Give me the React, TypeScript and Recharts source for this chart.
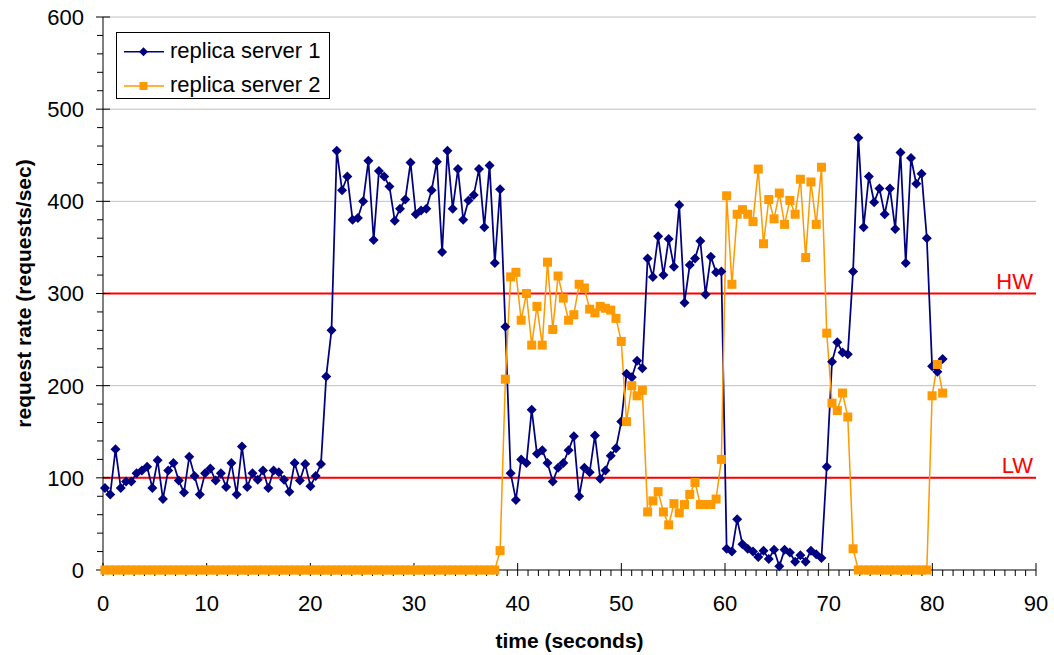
import React from 'react';
import { LineChart, Line, XAxis, YAxis, ReferenceLine, Legend } from 'recharts';

const FONT = '"Liberation Sans", Arial, Helvetica, sans-serif';
const NAVY = '#000080';
const ORANGE = '#FF9900';
const RED = '#FF0000';
const GRID = '#C0C0C0';

// sampling clock of the measurement run (seconds)
const FIRST_SAMPLE = 0.19;
const SAMPLE_INTERVAL = 0.5082;

// request rate seen by each replica, one value per sample
const server1 = [
  89, 82, 131, 89, 96, 96, 105, 108, 112, 89,
  119, 77, 108, 116, 97, 84, 123, 102, 82, 105,
  110, 97, 105, 90, 116, 82, 134, 90, 105, 98,
  108, 89, 108, 106, 98, 85, 116, 97, 115, 91,
  102, 115, 210, 260, 455, 412, 427, 380, 382, 400,
  444, 358, 433, 427, 416, 379, 392, 402, 442, 386,
  390, 392, 412, 443, 345, 455, 392, 435, 380, 401,
  407, 435, 372, 439, 333, 413, 264, 105, 76, 120,
  116, 174, 126, 130, 116, 96, 111, 116, 130, 145,
  80, 111, 106, 146, 99, 108, 124, 132, 161, 213,
  209, 227, 219, 338, 318, 362, 320, 359, 329, 396,
  290, 331, 338, 357, 299, 340, 323, 324, 23, 20,
  55, 28, 23, 20, 14, 21, 12, 22, 4, 22,
  19, 9, 16, 9, 21, 17, 13, 112, 226, 247,
  236, 234, 324, 469, 372, 427, 399, 414, 386, 414,
  370, 453, 333, 447, 419, 430, 360, 221, 215, 229,
];

const server2 = [
  0, 0, 0, 0, 0, 0, 0, 0, 0, 0,
  0, 0, 0, 0, 0, 0, 0, 0, 0, 0,
  0, 0, 0, 0, 0, 0, 0, 0, 0, 0,
  0, 0, 0, 0, 0, 0, 0, 0, 0, 0,
  0, 0, 0, 0, 0, 0, 0, 0, 0, 0,
  0, 0, 0, 0, 0, 0, 0, 0, 0, 0,
  0, 0, 0, 0, 0, 0, 0, 0, 0, 0,
  0, 0, 0, 0, 0, 21, 207, 318, 323, 271,
  300, 244, 286, 244, 334, 261, 319, 295, 271, 277,
  310, 306, 283, 279, 286, 284, 282, 273, 248, 161,
  200, 189, 195, 63, 75, 85, 63, 49, 72, 62,
  71, 82, 95, 71, 71, 71, 77, 120, 406, 310,
  386, 391, 386, 378, 435, 354, 402, 381, 409, 375,
  401, 386, 424, 339, 421, 375, 437, 257, 181, 173,
  192, 166, 23, 0, 0, 0, 0, 0, 0, 0,
  0, 0, 0, 0, 0, 0, 0, 189, 223, 192,
];

const seriesNames = ['replica server 1', 'replica server 2'];
const xMajorTicks = [0, 10, 20, 30, 40, 50, 60, 70, 80, 90];
const yMajorTicks = [0, 100, 200, 300, 400, 500, 600];
const gridLevels = [100, 200, 300, 400, 500, 600];
const thresholds = [
  { level: 300, name: 'HW' },
  { level: 100, name: 'LW' },
];

// minor ticks every second on x and every 20 req/s on y
const xTicks = Array.from({ length: 91 }, (_, i) => i);
const yTicks = Array.from({ length: 31 }, (_, i) => i * 20);

const data = server1.map((v, i) => ({
  t: FIRST_SAMPLE + i * SAMPLE_INTERVAL,
  s1: v,
  s2: server2[i],
}));

// the chart is pinned to the page corner and fills the whole window
const WIDTH = 1054;
const HEIGHT = 655;
const PLOT_TOP = 17;
const PLOT_BOTTOM = 570;
const PLOT_RIGHT_GAP = 18;
const Y_AXIS_W = 103;
const X_AXIS_H = HEIGHT - PLOT_BOTTOM;

const Diamond = (props: any) => {
  const { cx, cy } = props;
  if (cx == null || cy == null) return null;
  const r = 5;
  return (
    <path
      d={`M${cx},${cy - r}L${cx + r},${cy}L${cx},${cy + r}L${cx - r},${cy}Z`}
      fill={NAVY}
      stroke="none"
    />
  );
};

const Square = (props: any) => {
  const { cx, cy } = props;
  if (cx == null || cy == null) return null;
  const h = 4.5;
  return <rect x={cx - h} y={cy - h} width={h * 2} height={h * 2} fill={ORANGE} />;
};

const XTick = (props: any) => {
  const { x, y, payload } = props;
  const v = payload.value;
  const major = xMajorTicks.includes(v);
  return (
    <g>
      <line x1={x} x2={x} y1={major ? y - 7 : y} y2={y + 6} stroke="#000" strokeWidth={1} />
      {major && (
        <text x={x} y={y + 41} textAnchor="middle" fontSize={22} fontFamily={FONT} fill="#000">
          {v}
        </text>
      )}
    </g>
  );
};

const YTick = (props: any) => {
  const { x, y, payload } = props;
  const v = payload.value;
  const major = yMajorTicks.includes(v);
  return (
    <g>
      <line x1={major ? x - 7 : x - 6} x2={major ? x + 7 : x} y1={y} y2={y} stroke="#000" strokeWidth={1} />
      {major && (
        <text x={x - 19} y={y} dy="0.36em" textAnchor="end" fontSize={22} fontFamily={FONT} fill="#000">
          {v}
        </text>
      )}
    </g>
  );
};

const ThresholdLabel = (props: any) => {
  const { viewBox, text } = props;
  if (!viewBox) return null;
  return (
    <text
      x={viewBox.x + viewBox.width - 3}
      y={viewBox.y - 5}
      textAnchor="end"
      fontSize={22}
      fontFamily={FONT}
      fill={RED}
    >
      {text}
    </text>
  );
};

const LegendBox = () => (
  <div
    style={{
      width: 214,
      height: 67,
      border: '1px solid #000',
      background: '#fff',
      boxSizing: 'border-box',
      lineHeight: 0,
    }}
  >
    <svg width={212} height={65}>
      {seriesNames.map((name, i) => {
        const y = i === 0 ? 18.7 : 53;
        const color = i === 0 ? NAVY : ORANGE;
        return (
          <g key={name}>
            <line x1={7} x2={47} y1={y} y2={y} stroke={color} strokeWidth={1.5} />
            {i === 0 ? (
              <path d={`M26.5,${y - 4.5}L31,${y}L26.5,${y + 4.5}L22,${y}Z`} fill={NAVY} />
            ) : (
              <rect x={22.5} y={y - 4} width={8} height={8} fill={ORANGE} />
            )}
            <text x={53} y={y + 6} fontSize={22} fontFamily={FONT} fill="#000">
              {name}
            </text>
          </g>
        );
      })}
    </svg>
  </div>
);

const layer: React.CSSProperties = { position: 'absolute', left: 0, top: 0 };

// axes, grid and thresholds sit underneath; the series are drawn in a second
// chart laid over it so the markers cover the axis line at zero
export default function App() {
  return (
    <div style={{ ...layer, width: WIDTH, height: HEIGHT, background: '#fff' }}>
      <div style={{ ...layer, zIndex: 0 }}>
        <LineChart
          width={WIDTH}
          height={HEIGHT}
          data={data}
          margin={{ top: PLOT_TOP, right: PLOT_RIGHT_GAP, left: 0, bottom: 0 }}
          style={{ fontFamily: FONT }}
        >
          <XAxis
            type="number"
            dataKey="t"
            domain={[0, 90]}
            ticks={xTicks}
            interval={0}
            tickSize={0}
            tickMargin={0}
            tickLine={false}
            tick={<XTick />}
            axisLine={{ stroke: '#000' }}
            height={X_AXIS_H}
            label={() => (
              <text
                x={(Y_AXIS_W + WIDTH - PLOT_RIGHT_GAP) / 2}
                y={648}
                textAnchor="middle"
                fontSize={21}
                fontWeight="bold"
                fontFamily={FONT}
                fill="#000"
              >
                time (seconds)
              </text>
            )}
          />
          <YAxis
            type="number"
            domain={[0, 600]}
            ticks={yTicks}
            interval={0}
            tickSize={0}
            tickMargin={0}
            tickLine={false}
            tick={<YTick />}
            axisLine={{ stroke: '#000' }}
            width={Y_AXIS_W}
            label={() => (
              <text
                x={30.6}
                y={(PLOT_TOP + PLOT_BOTTOM) / 2}
                transform={`rotate(-90, 30.6, ${(PLOT_TOP + PLOT_BOTTOM) / 2})`}
                textAnchor="middle"
                fontSize={21}
                fontWeight="bold"
                fontFamily={FONT}
                fill="#000"
              >
                request rate (requests/sec)
              </text>
            )}
          />
          {gridLevels.map((g) => (
            <ReferenceLine key={`grid-${g}`} y={g} stroke={GRID} strokeWidth={1} />
          ))}
          {thresholds.map((th) => (
            <ReferenceLine
              key={th.name}
              y={th.level}
              stroke={RED}
              strokeWidth={2}
              label={<ThresholdLabel text={th.name} />}
            />
          ))}
          {/* unstroked copy so the value axis has a series to scale against */}
          <Line
            dataKey="s1"
            stroke="none"
            dot={false}
            activeDot={false}
            legendType="none"
            isAnimationActive={false}
          />
        </LineChart>
      </div>
      <div style={{ ...layer, zIndex: 1 }}>
        <LineChart
          width={WIDTH}
          height={HEIGHT}
          data={data}
          margin={{ top: PLOT_TOP, right: PLOT_RIGHT_GAP, left: Y_AXIS_W, bottom: X_AXIS_H }}
          style={{ fontFamily: FONT }}
        >
          <XAxis type="number" dataKey="t" domain={[0, 90]} hide />
          <YAxis type="number" domain={[0, 600]} hide />
          <Line
            type="linear"
            dataKey="s1"
            name={seriesNames[0]}
            stroke={NAVY}
            strokeWidth={1.75}
            dot={<Diamond />}
            activeDot={false}
            isAnimationActive={false}
          />
          <Line
            type="linear"
            dataKey="s2"
            name={seriesNames[1]}
            stroke={ORANGE}
            strokeWidth={1.5}
            dot={<Square />}
            activeDot={false}
            isAnimationActive={false}
          />
          <Legend
            layout="vertical"
            align="center"
            verticalAlign="middle"
            content={<LegendBox />}
            wrapperStyle={{ left: 116, top: 32, width: 'auto', height: 'auto' }}
          />
        </LineChart>
      </div>
    </div>
  );
}
